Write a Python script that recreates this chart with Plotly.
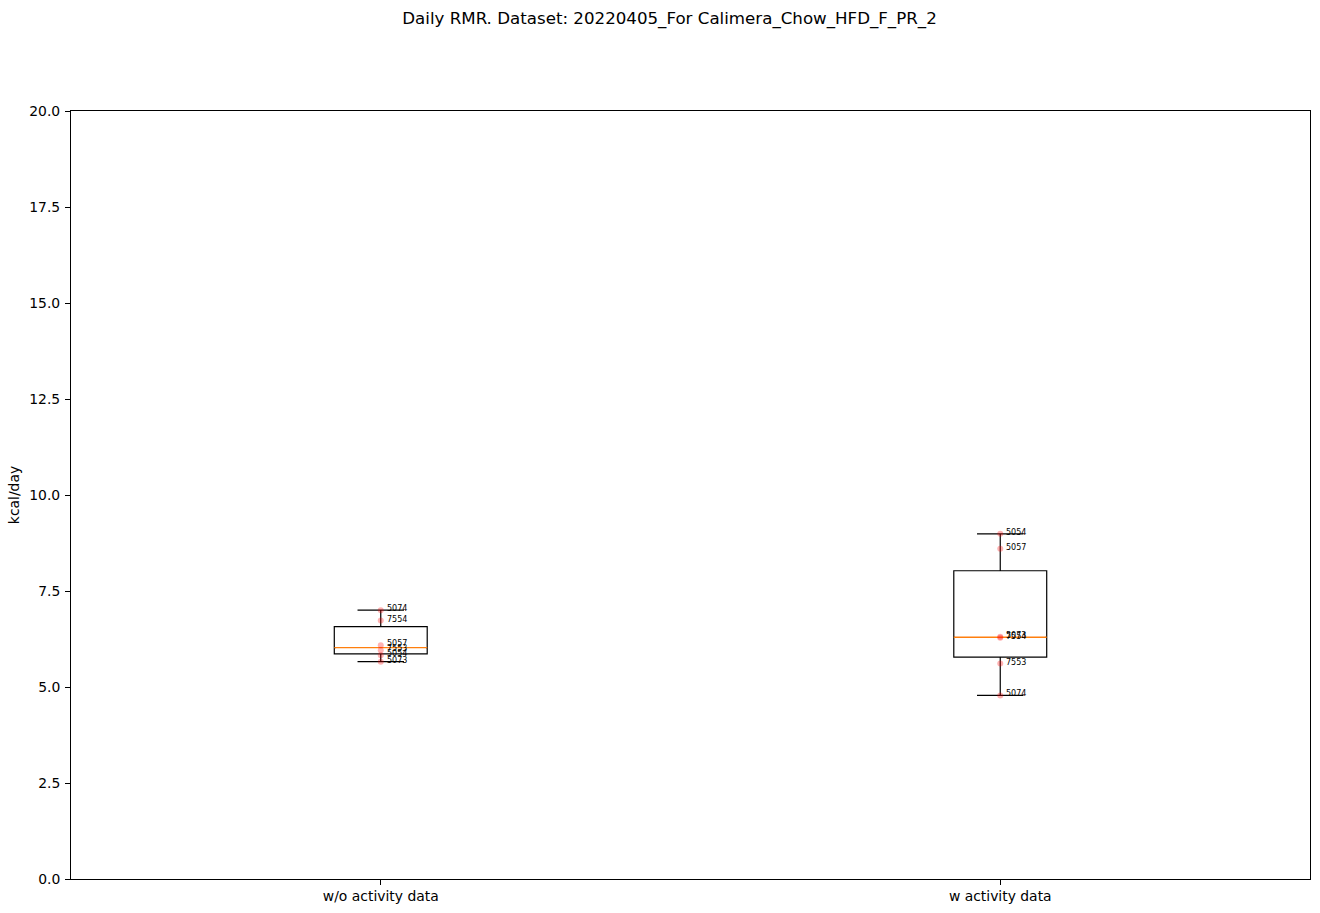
import numpy as np
import plotly.graph_objects as go

categories = ["w/o activity data", "w activity data"]
animal_ids_wo = ["5074", "7554", "5057", "7553", "5054", "5073"]
rmr_wo = [7.00, 6.73, 6.09, 5.96, 5.83, 5.66]
animal_ids_w = ["5054", "5057", "5073", "7554", "7553", "5074"]
rmr_w = [8.99, 8.60, 6.31, 6.28, 5.61, 4.78]
y_ticks = [0, 2.5, 5, 7.5, 10, 12.5, 15, 17.5, 20]

groups = [(1, animal_ids_wo, rmr_wo), (2, animal_ids_w, rmr_w)]
box_w = 0.15

fig = go.Figure()
annotations = []
for pos, ids, vals in groups:
    arr = np.asarray(vals)
    q1, med, q3 = np.percentile(arr, [25, 50, 75])
    iqr = q3 - q1
    lo = arr[arr >= q1 - 1.5 * iqr].min()
    hi = arr[arr <= q3 + 1.5 * iqr].max()
    fig.add_trace(go.Box(
        x=[pos], q1=[q1], median=[med], q3=[q3], lowerfence=[lo], upperfence=[hi],
        width=box_w, whiskerwidth=0.5, fillcolor="rgba(0,0,0,0)",
        line=dict(color="black", width=1.2), hoverinfo="skip",
    ))
    fig.add_trace(go.Scatter(
        x=[pos - box_w / 2 + 0.002, pos + box_w / 2 - 0.002], y=[med, med], mode="lines",
        line=dict(color="white", width=3), hoverinfo="skip",
    ))
    fig.add_trace(go.Scatter(
        x=[pos - box_w / 2, pos + box_w / 2], y=[med, med], mode="lines",
        line=dict(color="#ff7f0e", width=1.3), hoverinfo="skip",
    ))
    fig.add_trace(go.Scatter(
        x=[pos] * len(vals), y=vals, mode="markers",
        marker=dict(color="rgba(255,0,0,0.3)", size=6, line=dict(width=0)),
    ))
    for aid, v in zip(ids, vals):
        annotations.append(dict(
            x=pos, y=v, xref="x", yref="y", text=aid, showarrow=False,
            xanchor="left", yanchor="middle", xshift=4, yshift=1.5,
            font=dict(size=8, color="black", family="DejaVu Sans"),
        ))

fig.update_layout(
    width=1320, height=913,
    margin=dict(l=71, r=10, t=111, b=34),
    paper_bgcolor="white", plot_bgcolor="white",
    showlegend=False,
    font=dict(family="DejaVu Sans", size=13.9, color="black"),
    annotations=annotations,
    title=dict(
        text="Daily RMR. Dataset: 20220405_For Calimera_Chow_HFD_F_PR_2",
        x=669.5 / 1320, xanchor="center", xref="container",
        y=1 - 18 / 913, yanchor="middle", yref="container",
        font=dict(size=16.67, color="black", family="DejaVu Sans"),
    ),
)
fig.update_xaxes(
    range=[0.5, 2.5], tickvals=[1, 2], ticktext=categories,
    tickfont=dict(size=13.9), automargin=False,
    showline=True, mirror=True, linecolor="black", linewidth=1,
    ticks="outside", ticklen=5, tickcolor="black", ticklabelstandoff=-1,
    showgrid=False, zeroline=False,
)
fig.update_yaxes(
    range=[0, 20], tickvals=y_ticks, tickformat=".1f",
    tickfont=dict(size=13.9), automargin=False,
    title=dict(text="kcal/day", standoff=6, font=dict(size=13.9)),
    showline=True, mirror=True, linecolor="black", linewidth=1,
    ticks="outside", ticklen=5, tickcolor="black", ticklabelstandoff=2,
    showgrid=False, zeroline=False,
)

fig.write_html("out.html")
